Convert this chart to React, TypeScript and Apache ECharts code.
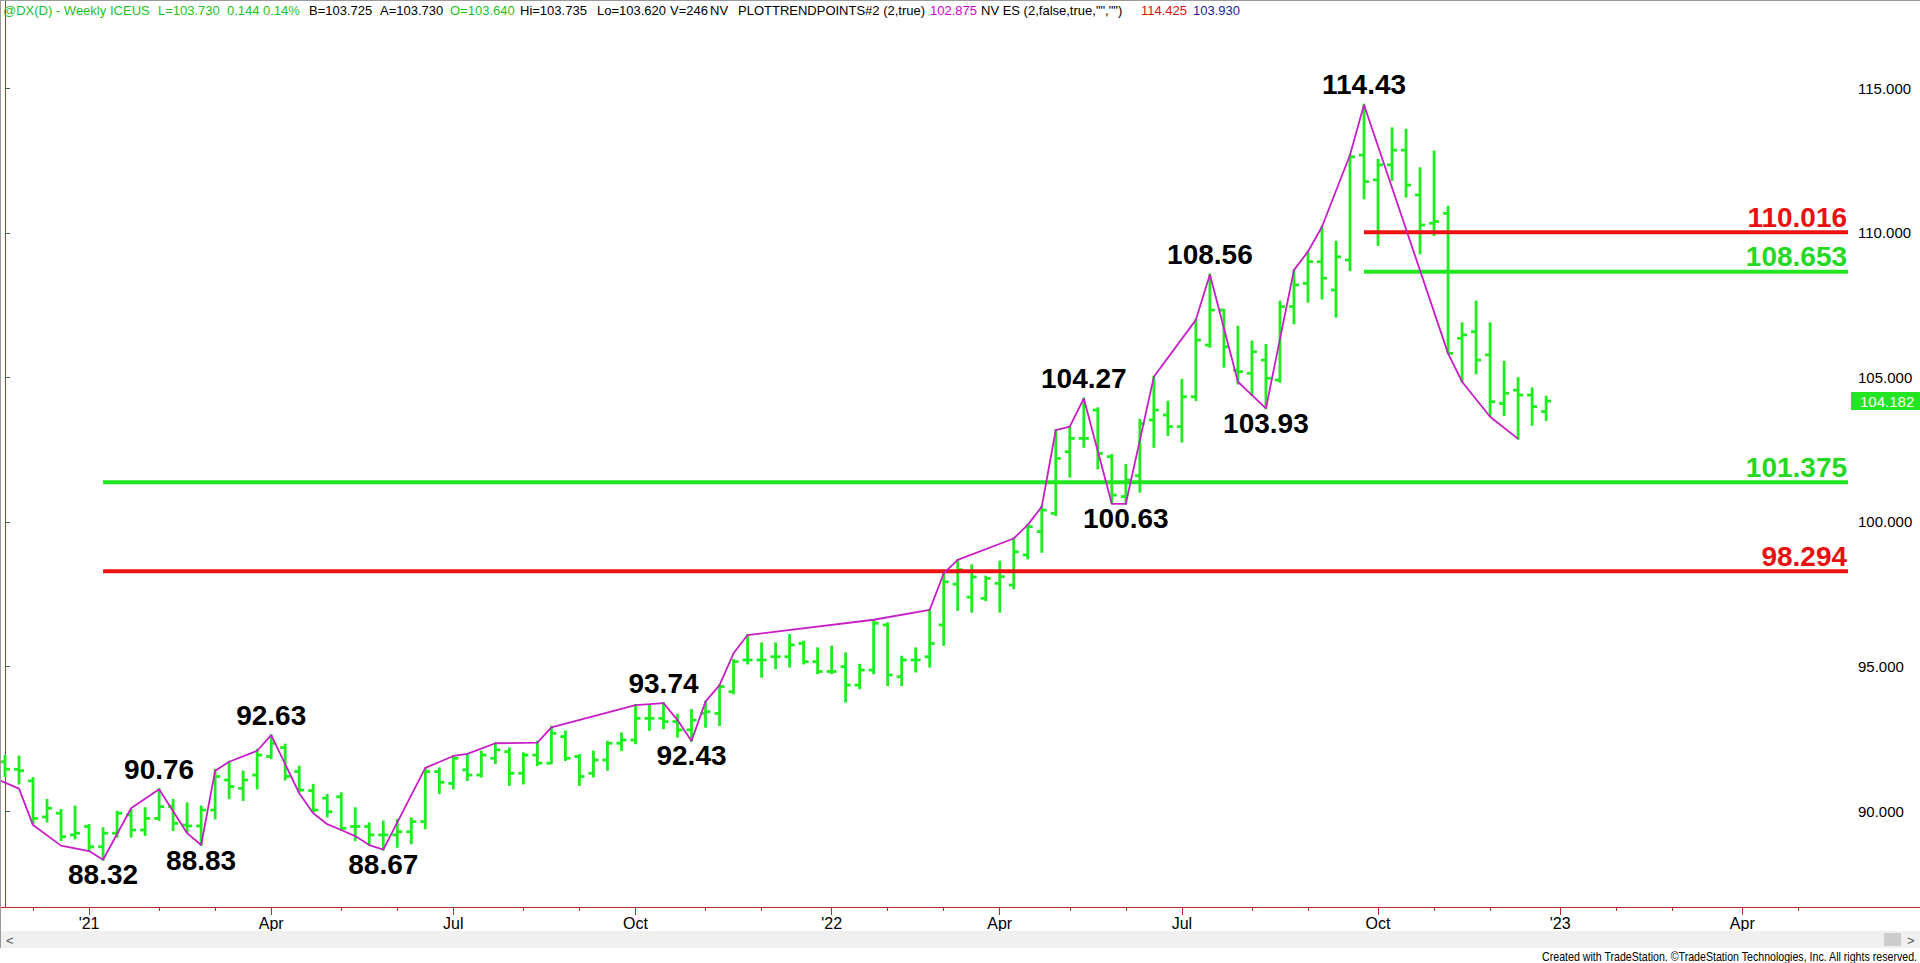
import React, { useEffect, useRef } from 'react';
import * as echarts from 'echarts';

// ---------- data ----------
const FIRST_WEEK = Date.UTC(2020, 10, 20); // first weekly bar, Fri 20 Nov 2020
const WEEK_SLOTS = 132; // weekly slots on the time scale (incl. empty future weeks)
const MONTHS = ['Jan', 'Feb', 'Mar', 'Apr', 'May', 'Jun', 'Jul', 'Aug', 'Sep', 'Oct', 'Nov', 'Dec'];

const opens = [
  91.71, 91.45, 91.05, 89.80, 89.93, 89.18, 89.47, 88.77, 89.24, 89.87,
  89.35, 89.75, 90.16, 89.52, 89.49, 90.04, 91.08, 90.79, 91.25, 91.89,
  92.20, 91.37, 90.71, 90.45, 90.50, 89.47, 89.47, 89.18, 89.18, 89.29,
  89.64, 91.37, 90.96, 91.43, 91.25, 91.83, 92.06, 91.31, 91.94, 91.66,
  92.58, 91.89, 91.31, 91.77, 92.35, 92.46, 93.21, 93.21, 93.10, 92.81,
  93.38, 93.38, 94.13, 95.23, 95.23, 95.34, 95.34, 95.80, 95.17, 94.83,
  95.00, 94.36, 94.88, 96.44, 94.65, 95.23, 95.34, 96.44, 97.85, 97.40,
  97.36, 97.88, 97.82, 98.86, 99.67, 100.30, 102.43, 102.89, 103.87, 102.26,
  100.88, 101.60, 103.53, 103.70, 103.30, 104.33, 106.12, 107.33, 105.25, 105.14,
  105.60, 104.91, 107.45, 108.25, 109.00, 108.02, 109.06, 112.69, 111.83, 112.35,
  112.86, 111.31, 110.33, 110.67, 106.35, 106.58, 105.78, 104.10, 104.56, 104.39,
  103.82,
];
const highs = [
  91.91, 91.89, 91.14, 90.39, 90.04, 90.16, 89.52, 89.41, 89.98, 90.04,
  90.10, 90.76, 90.39, 90.27, 90.16, 91.43, 91.71, 91.37, 92.12, 92.63,
  92.30, 91.54, 90.91, 90.56, 90.62, 90.10, 89.58, 89.64, 89.70, 89.75,
  91.48, 91.48, 91.89, 91.94, 92.06, 92.35, 92.17, 92.00, 92.40, 92.92,
  92.75, 91.94, 92.06, 92.40, 92.69, 93.67, 93.67, 93.74, 93.33, 93.50,
  93.79, 94.36, 95.23, 96.09, 95.80, 95.80, 96.09, 95.86, 95.63, 95.69,
  95.46, 95.06, 96.61, 96.50, 95.34, 95.63, 96.96, 98.22, 98.69, 98.50,
  98.11, 98.63, 99.44, 99.90, 100.53, 103.18, 103.30, 104.27, 103.93, 102.32,
  101.97, 103.53, 105.02, 104.16, 104.91, 106.99, 108.56, 107.33, 106.75, 106.24,
  106.12, 107.62, 108.71, 109.35, 110.21, 109.69, 112.69, 114.43, 112.52, 113.61,
  113.56, 112.23, 112.81, 110.90, 106.87, 107.62, 106.87, 105.54, 104.97, 104.62,
  104.33,
];
const lows = [
  91.22, 90.96, 89.58, 89.64, 89.00, 89.06, 88.66, 88.32, 89.12, 89.12,
  89.18, 89.70, 89.35, 89.29, 88.83, 89.75, 90.45, 90.39, 90.79, 91.83,
  91.10, 90.68, 89.98, 89.81, 89.35, 89.00, 88.83, 88.67, 88.77, 88.89,
  89.41, 90.62, 90.79, 91.08, 91.20, 91.66, 90.91, 90.96, 91.60, 91.66,
  91.77, 90.91, 91.20, 91.43, 92.12, 92.35, 92.81, 92.87, 92.58, 92.43,
  92.92, 92.98, 94.08, 95.11, 94.65, 94.94, 95.00, 95.11, 94.77, 94.77,
  93.79, 94.25, 94.77, 94.36, 94.36, 94.83, 95.00, 95.75, 96.96, 96.90,
  97.30, 96.90, 97.71, 98.74, 98.97, 100.24, 101.57, 102.60, 101.86, 100.65,
  100.63, 101.05, 102.60, 103.01, 102.78, 104.22, 106.06, 105.37, 104.79, 104.39,
  103.93, 104.85, 106.87, 107.62, 107.73, 107.10, 108.71, 111.19, 109.58, 111.83,
  111.25, 109.29, 109.92, 105.83, 104.85, 105.14, 103.70, 103.70, 102.875, 103.36,
  103.53,
];
const closes = [
  91.45, 91.40, 89.75, 90.10, 89.12, 89.24, 88.77, 89.24, 89.93, 89.35,
  89.75, 90.16, 89.58, 89.49, 90.04, 91.20, 90.85, 91.08, 91.94, 92.35,
  91.20, 90.73, 90.04, 89.98, 89.41, 89.47, 89.18, 89.18, 89.29, 89.64,
  91.37, 91.00, 91.83, 91.25, 91.94, 92.12, 91.31, 91.94, 91.66, 92.69,
  91.83, 91.20, 91.77, 92.35, 92.46, 93.21, 93.21, 93.10, 92.81, 93.15,
  93.44, 94.31, 95.17, 95.23, 95.23, 95.34, 95.75, 95.17, 94.83, 94.83,
  94.36, 94.88, 96.50, 94.71, 95.23, 95.23, 95.80, 97.93, 98.35, 98.10,
  98.05, 98.11, 98.97, 99.84, 100.41, 102.20, 102.89, 102.89, 102.37, 100.93,
  101.45, 103.40, 103.87, 103.30, 104.33, 106.29, 107.33, 106.06, 105.20, 105.89,
  104.97, 107.45, 108.20, 109.00, 108.43, 109.17, 112.63, 111.77, 112.35, 112.86,
  111.65, 110.27, 110.39, 105.83, 106.47, 105.60, 104.16, 104.45, 104.39, 103.99,
  104.182,
];

// PLOTTRENDPOINTS zig-zag (week index, price)
const trendWeeks = [
  -1, 0, 1, 2, 4, 6, 7, 9, 11, 13, 14, 15, 16, 18, 19, 21, 22, 23, 24, 25, 26, 27,
  30, 31, 32, 33, 35, 38, 39, 45, 46, 47, 48, 49, 50, 51, 52, 53, 62, 66, 67, 68,
  72, 73, 74, 75, 76, 77, 79, 80, 82, 85, 86, 88, 89, 90, 92, 93, 94, 96, 97, 103,
  104, 106, 108,
];
const trendPrices = [
  91.2, 90.99, 90.78, 89.52, 88.81, 88.62, 88.32, 90.10, 90.76, 89.24, 88.83, 91.40,
  91.71, 92.09, 92.63, 90.62, 89.93, 89.55, 89.35, 89.14, 88.83, 88.67,
  91.50, 91.70, 91.91, 91.98, 92.35, 92.37, 92.90, 93.67, 93.70, 93.74, 93.15, 92.43,
  93.79, 94.36, 95.46, 96.09, 96.62, 96.96, 98.22, 98.69,
  99.43, 99.90, 100.53, 103.18, 103.30, 104.27, 100.63, 100.63, 105.02, 106.99, 108.56,
  104.85, 104.39, 103.93, 108.71, 109.35, 110.21, 112.69, 114.43, 105.83,
  104.85, 103.64, 102.875,
];

// labelled swing points
const pivotWeeks = [7, 11, 14, 19, 27, 47, 49, 77, 80, 86, 90, 97];
const pivotPrices = [88.32, 90.76, 88.83, 92.63, 88.67, 93.74, 92.43, 104.27, 100.63, 108.56, 103.93, 114.43];
const pivotKinds = ['L', 'H', 'L', 'H', 'L', 'H', 'L', 'H', 'L', 'H', 'L', 'H'];

// horizontal levels
const levelPrices = [110.016, 108.653, 101.375, 98.294];
const levelFromWeek = [97, 97, 7, 7];
const levelKinds = ['red', 'green', 'green', 'red'];

const priceTicks = [90, 95, 100, 105, 110, 115];

const headerTexts = [
  '@DX(D) - Weekly', 'ICEUS', 'L=103.730', '0.144', '0.14%', 'B=103.725', 'A=103.730',
  'O=103.640', 'Hi=103.735', 'Lo=103.620', 'V=246', 'NV', 'PLOTTRENDPOINTS#2 (2,true)',
  '102.875', 'NV ES (2,false,true,"","")', '114.425', '103.930',
];
const headerKinds = ['g', 'g', 'g', 'g', 'g', 'k', 'k', 'g', 'k', 'k', 'k', 'k', 'k', 'm', 'k', 'r', 'b'];

// ---------- layout / style ----------
const headerX = [3, 110, 158, 227, 263, 309, 380, 450, 520, 597, 670, 710, 738, 930, 981, 1141, 1193];
const HEADER_COLORS: Record<string, string> = { g: '#1fbf1f', k: '#000000', m: '#d000d0', r: '#e01010', b: '#1a1a9a' };
const LEVEL_COLORS: Record<string, string> = { red: '#ec1212', green: '#22e622' };
const LEVEL_TEXT: Record<string, string> = { red: '#e81010', green: '#24d824' };
const BAR_GREEN = '#1eee1e';
const TREND = '#c81ec8';
const AXIS_RED = '#c0282d';
const FONT = "'Liberation Sans', Arial, Helvetica, sans-serif";

const X_MIN = -0.357;
const X_MAX = 131.76;
const Y_MIN = 86.687;
const Y_MAX = 118.05;
const LEVEL_END = 131.55;

function weekDate(i: number) {
  return new Date(FIRST_WEEK + i * 7 * 86400000);
}

export default function App() {
  const ref = useRef<HTMLDivElement>(null);

  useEffect(() => {
    if (!ref.current) return;
    const chart = echarts.init(ref.current, null, { renderer: 'svg' });

    const monthStarts: number[] = [];
    for (let i = 1; i < WEEK_SLOTS; i++) {
      if (weekDate(i).getUTCMonth() !== weekDate(i - 1).getUTCMonth()) monthStarts.push(i);
    }
    const quarterStarts = monthStarts.filter((i) => weekDate(i).getUTCMonth() % 3 === 0);
    const fmtX = (v: number) => {
      const d = weekDate(Math.round(v));
      const m = d.getUTCMonth();
      return m === 0 ? "'" + String(d.getUTCFullYear()).slice(2) : MONTHS[m];
    };

    const bars = opens.map((o, i) => [i, o, highs[i], lows[i], closes[i]]);
    const last = closes.length - 1;

    const option: any = {
      animation: false,
      backgroundColor: '#ffffff',
      grid: { left: 0, right: 69, top: 0, bottom: 56 },
      xAxis: [
        {
          type: 'value', min: X_MIN, max: X_MAX, position: 'bottom',
          axisLine: { show: true, lineStyle: { color: AXIS_RED, width: 1 } },
          axisTick: { show: true, customValues: quarterStarts, length: 8, lineStyle: { color: AXIS_RED } },
          axisLabel: { customValues: quarterStarts, formatter: fmtX, color: '#000', fontSize: 16, fontFamily: FONT, margin: 8 },
          splitLine: { show: false },
        },
        {
          type: 'value', min: X_MIN, max: X_MAX, position: 'bottom',
          axisLine: { show: false },
          axisTick: { show: true, customValues: monthStarts, length: 4, lineStyle: { color: AXIS_RED } },
          axisLabel: { show: false },
          splitLine: { show: false },
        },
      ],
      yAxis: {
        type: 'value', position: 'right', min: Y_MIN, max: Y_MAX,
        axisLine: { show: true, lineStyle: { color: AXIS_RED, width: 1 } },
        axisTick: { show: true, customValues: priceTicks, length: 5, lineStyle: { color: '#555' } },
        axisLabel: { customValues: priceTicks, formatter: (v: number) => v.toFixed(3), color: '#000', fontSize: 15, fontFamily: FONT, margin: 7 },
        splitLine: { show: false },
      },
      series: [
        {
          type: 'custom', name: 'DX weekly', data: bars, encode: { x: 0, y: [1, 2, 3, 4] }, z: 2,
          renderItem: (params: any, api: any) => {
            const x = api.value(0);
            const o = api.coord([x, api.value(1)]);
            const h = api.coord([x, api.value(2)]);
            const l = api.coord([x, api.value(3)]);
            const c = api.coord([x, api.value(4)]);
            const style = { stroke: BAR_GREEN, lineWidth: 2.8 };
            return {
              type: 'group',
              children: [
                { type: 'line', shape: { x1: h[0], y1: h[1] - 1, x2: l[0], y2: l[1] + 1 }, style },
                { type: 'line', shape: { x1: o[0] - 5, y1: o[1], x2: o[0], y2: o[1] }, style },
                { type: 'line', shape: { x1: c[0], y1: c[1], x2: c[0] + 5, y2: c[1] }, style },
              ],
            };
          },
        },
        {
          type: 'custom', name: 'levels', z: 3, clip: false,
          data: levelPrices.map((p, i) => [levelFromWeek[i], p]),
          encode: { x: 0, y: 1 },
          renderItem: (params: any, api: any) => {
            const v = api.value(1);
            const s = api.coord([api.value(0), v]);
            const e = api.coord([LEVEL_END, v]);
            const kind = levelKinds[params.dataIndex];
            return {
              type: 'group',
              children: [
                { type: 'line', shape: { x1: s[0], y1: s[1], x2: e[0], y2: s[1] }, style: { stroke: LEVEL_COLORS[kind], lineWidth: 4 } },
                {
                  type: 'text', x: e[0] - 1, y: s[1] - 1,
                  style: {
                    text: v.toFixed(3), fill: LEVEL_TEXT[kind], font: `bold 28px ${FONT}`,
                    align: 'right', textAlign: 'right', verticalAlign: 'bottom', textVerticalAlign: 'bottom',
                  },
                },
              ],
            };
          },
        },
        {
          type: 'line', name: 'trend points', z: 4, clip: true,
          data: trendWeeks.map((w, i) => [w, trendPrices[i]]),
          showSymbol: false, symbol: 'none',
          lineStyle: { color: TREND, width: 1.8 },
        },
        {
          type: 'custom', name: 'pivots', z: 5, clip: false,
          data: pivotWeeks.map((w, i) => [w, pivotPrices[i]]),
          encode: { x: 0, y: 1 },
          renderItem: (params: any, api: any) => {
            const v = api.value(1);
            const p = api.coord([api.value(0), v]);
            const high = pivotKinds[params.dataIndex] === 'H';
            const va = high ? 'bottom' : 'top';
            return {
              type: 'text', x: p[0], y: high ? p[1] - 6 : p[1] + 1,
              style: {
                text: v.toFixed(2), fill: '#000', font: `bold 28px ${FONT}`,
                align: 'center', textAlign: 'center', verticalAlign: va, textVerticalAlign: va,
              },
            };
          },
        },
        {
          type: 'custom', name: 'last', z: 6, clip: false,
          data: [[last, closes[last]]],
          encode: { x: 0, y: 1 },
          renderItem: (params: any, api: any) => {
            const v = api.value(1);
            const p = api.coord([X_MAX, v]);
            const w = api.getWidth() - p[0];
            return {
              type: 'group',
              children: [
                { type: 'rect', shape: { x: p[0], y: p[1] - 9, width: w, height: 18 }, style: { fill: '#22e622' } },
                {
                  type: 'text', x: p[0] + 9, y: p[1],
                  style: { text: v.toFixed(3), fill: '#ffffff', font: `15px ${FONT}`, align: 'left', textAlign: 'left', verticalAlign: 'middle', textVerticalAlign: 'middle' },
                },
              ],
            };
          },
        },
      ],
      graphic: [
        { type: 'line', shape: { x1: 0, y1: 0.5, x2: 1920, y2: 0.5 }, style: { stroke: '#9a9a9a', lineWidth: 1 }, z: 10 },
        { type: 'line', shape: { x1: 0.5, y1: 0, x2: 0.5, y2: 948 }, style: { stroke: '#9a9a9a', lineWidth: 1 }, z: 10 },
        { type: 'line', shape: { x1: 1851, y1: 907.5, x2: 1920, y2: 907.5 }, style: { stroke: AXIS_RED, lineWidth: 1 }, z: 10 },
        { type: 'rect', shape: { x: 1, y: 931, width: 1919, height: 17 }, style: { fill: '#f0f0f0' }, z: 9 },
        { type: 'rect', shape: { x: 1884, y: 933, width: 17, height: 13 }, style: { fill: '#cdcdcd' }, z: 10 },
        { type: 'text', x: 6, y: 940, style: { text: '<', fill: '#555', font: `13px ${FONT}`, verticalAlign: 'middle', textVerticalAlign: 'middle' }, z: 10 },
        { type: 'text', x: 1907, y: 940, style: { text: '>', fill: '#555', font: `13px ${FONT}`, verticalAlign: 'middle', textVerticalAlign: 'middle' }, z: 10 },
        {
          type: 'text', x: 1917, y: 956, scaleX: 0.85,
          style: {
            text: 'Created with TradeStation. ©TradeStation Technologies, Inc. All rights reserved.',
            fill: '#000', font: `12.5px ${FONT}`, align: 'right', textAlign: 'right', verticalAlign: 'middle', textVerticalAlign: 'middle',
          },
          z: 10,
        },
        ...headerTexts.map((t, i) => ({
          type: 'text', x: headerX[i], y: 10, z: 10,
          style: { text: t, fill: HEADER_COLORS[headerKinds[i]], font: `13px ${FONT}`, verticalAlign: 'middle', textVerticalAlign: 'middle' },
        })),
      ],
    };

    chart.setOption(option);
    return () => chart.dispose();
  }, []);

  return (
    <div
      ref={ref}
      style={{ position: 'fixed', left: 0, top: 0, width: 1920, height: 963, background: '#fff' }}
    />
  );
}
